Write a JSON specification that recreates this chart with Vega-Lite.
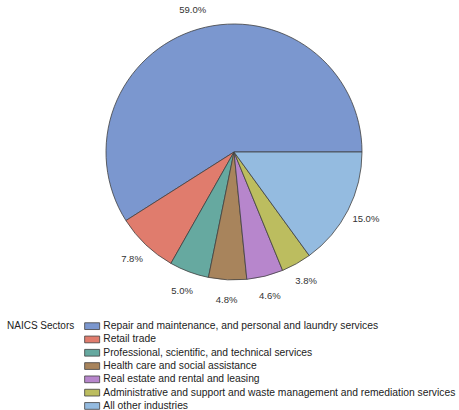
{
  "$schema": "https://vega.github.io/schema/vega-lite/v6.json",
  "width": 450,
  "height": 304,
  "autosize": "none",
  "padding": {"left": 9, "top": 0, "right": 0, "bottom": 106},
  "background": "white",
  "data": {
    "values": [
      {"sector": "Repair and maintenance, and personal and laundry services", "idx": 1, "share": 0.590},
      {"sector": "Retail trade", "idx": 2, "share": 0.078},
      {"sector": "Professional, scientific, and technical services", "idx": 3, "share": 0.050},
      {"sector": "Health care and social assistance", "idx": 4, "share": 0.048},
      {"sector": "Real estate and rental and leasing", "idx": 5, "share": 0.046},
      {"sector": "Administrative and support and waste management and remediation services", "idx": 6, "share": 0.038},
      {"sector": "All other industries", "idx": 7, "share": 0.150}
    ]
  },
  "encoding": {
    "theta": {"field": "share", "type": "quantitative", "stack": true, "scale": {"range": [1.5708, 7.854]}},
    "order": {"field": "idx", "type": "quantitative", "sort": "descending"}
  },
  "layer": [
    {
      "mark": {"type": "arc", "outerRadius": 128, "stroke": "#404040", "strokeWidth": 0.8},
      "encoding": {
        "color": {
          "field": "sector",
          "type": "nominal",
          "title": "NAICS Sectors",
          "scale": {
            "domain": [
              "Repair and maintenance, and personal and laundry services",
              "Retail trade",
              "Professional, scientific, and technical services",
              "Health care and social assistance",
              "Real estate and rental and leasing",
              "Administrative and support and waste management and remediation services",
              "All other industries"
            ],
            "range": ["#7b97cf", "#e07c6d", "#66a9a0", "#a8845c", "#b786cc", "#bcbd5f", "#94bbe0"]
          },
          "legend": {
            "orient": "none",
            "legendX": -2,
            "legendY": 321,
            "titleOrient": "left",
            "titleAnchor": "start",
            "titleAngle": 0,
            "titleAlign": "left",
            "titleBaseline": "top",
            "titlePadding": 12,
            "titleFont": "Liberation Sans",
            "titleFontSize": 10,
            "titleFontWeight": "normal",
            "titleColor": "#222",
            "labelFont": "Liberation Sans",
            "labelFontSize": 10.3,
            "labelColor": "#222",
            "labelOffset": 6,
            "labelLimit": 400,
            "rowPadding": 2.3,
            "symbolType": "M-2,-0.9L2,-0.9L2,0.9L-2,0.9Z",
            "symbolSize": 56.25,
            "symbolStrokeColor": "#404040",
            "symbolStrokeWidth": 0.8,
            "symbolOpacity": 1
          }
        }
      }
    },
    {
      "mark": {"type": "text", "radius": 148, "font": "Liberation Sans", "fontSize": 9.5, "color": "#333"},
      "encoding": {
        "text": {"field": "share", "type": "quantitative", "format": ".1%"}
      }
    }
  ],
  "config": {"view": {"stroke": null}}
}
